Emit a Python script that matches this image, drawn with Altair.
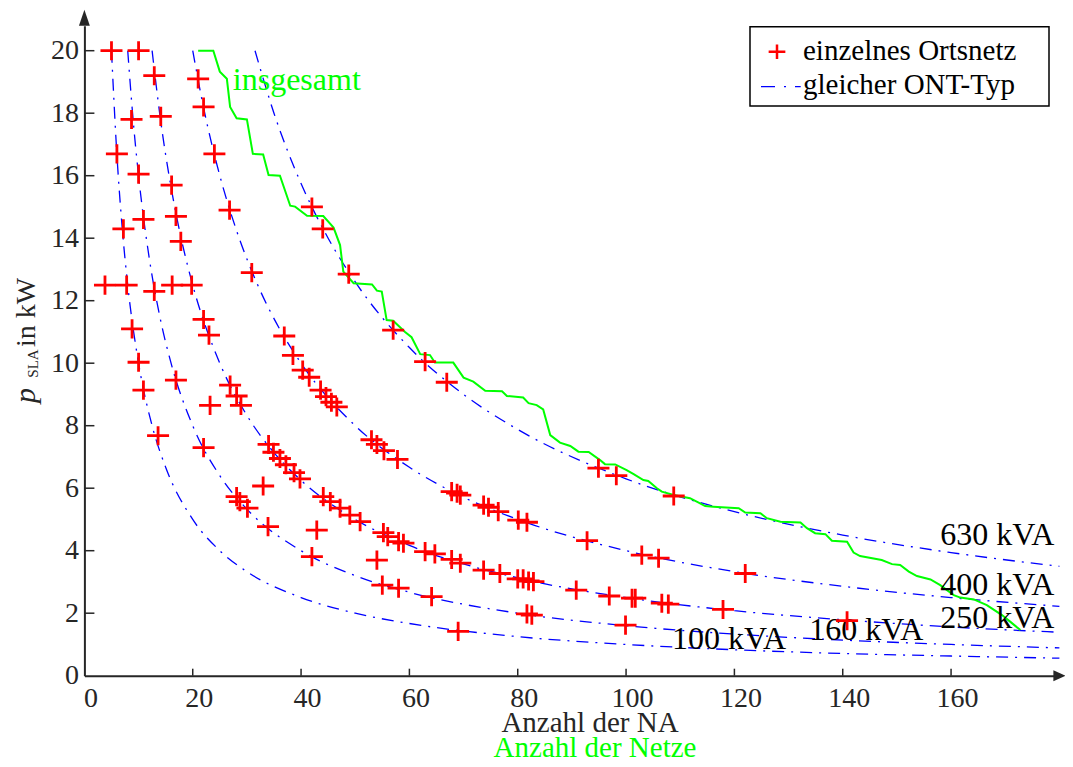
import altair as alt
import pandas as pd

FONT = "Liberation Serif"
DARK = "#262626"

# ---- red markers: einzelnes Ortsnetz (x = Anzahl der NA, y = p_SLA in kW)
pts_x = [5.0, 10.0, 12.9, 8.7, 14.1, 21.0, 22.0, 6.0, 10.0, 24.0, 16.1, 16.9, 26.8, 7.2, 10.9, 17.8, 42.0, 44.0,
         3.8, 7.8, 12.9, 16.2, 19.8, 30.9, 48.8, 8.8, 22.0, 23.0, 10.0, 10.9, 13.6, 16.9,
         26.9, 28.1, 28.9, 23.2, 22.0,
         36.9, 38.5, 40.3, 41.5, 43.6, 44.6, 45.6, 46.6,
         34.0, 34.9, 36.1, 37.2, 38.7, 39.8,
         33.0, 28.1, 28.7, 30.1, 33.9, 42.9, 42.0,
         44.1, 45.4, 47.2, 49.0, 50.9, 55.2, 56.0, 58.0, 58.9, 62.9, 64.7, 54.0,
         53.0, 54.0, 55.3, 57.8,
         57.0, 62.9, 66.9, 94.9, 98.2, 108.8,
         67.8, 68.8, 69.4, 73.7, 74.6, 76.4, 80.1, 81.7, 92.8, 102.9, 106.0, 122.0,
         67.8, 69.4, 73.7, 76.7, 80.0, 81.0, 82.0, 82.9, 90.8, 96.9, 101.1, 101.7, 106.6, 107.8, 117.9, 140.8,
         55.0, 58.0, 64.1, 81.7, 82.6, 99.9,
         69.0]
pts_y = [20.0, 20.0, 19.2, 17.8, 17.9, 19.1, 18.2, 16.7, 16.05, 16.7, 15.7, 14.7, 14.9, 14.3, 14.6, 13.9, 15.0, 14.3,
         12.5, 12.5, 12.3, 12.5, 12.5, 12.9, 12.85, 11.1, 11.4, 10.9, 10.03, 9.14, 7.68, 9.46,
         9.3, 8.95, 8.65, 8.65, 7.3,
         10.87, 10.25, 9.78, 9.55, 9.14, 8.93, 8.75, 8.6,
         7.4, 7.15, 6.95, 6.75, 6.5, 6.3,
         6.07, 5.73, 5.57, 5.36, 4.77, 4.66, 3.81,
         5.73, 5.57, 5.36, 5.14, 4.93, 4.58, 4.45, 4.29, 4.24, 3.97, 3.9, 3.70,
         7.55, 7.4, 7.2, 6.92,
         11.06, 10.05, 9.39, 6.64, 6.40, 5.75,
         5.89, 5.84, 5.78, 5.46, 5.39, 5.25, 4.98, 4.91, 4.32, 3.86, 3.76, 3.27,
         3.72, 3.6, 3.38, 3.27, 3.1, 3.1, 3.03, 3.01, 2.74, 2.55, 2.48, 2.48, 2.32, 2.29, 2.12, 1.76,
         2.90, 2.80, 2.53, 1.98, 1.94, 1.62,
         1.42]

# ---- green line: insgesamt
tot_x = [21.0, 23.8, 25.0, 26.3, 26.9, 28.1, 30.0, 31.1, 33.0, 34.0, 36.1, 38.0, 38.9, 41.1, 44.1, 46.0, 47.2, 47.8,
         49.7, 53.1, 54.0, 54.9, 55.8, 57.0, 59.2, 60.4, 62.0, 63.8, 64.7, 68.1, 70.0, 71.8, 74.0, 77.1, 78.0, 81.0,
         82.0, 83.5, 84.7, 86.0, 87.8, 89.7, 91.2, 93.1, 95.2, 96.1, 98.0, 100.1, 101.4, 103.2, 104.1, 105.7, 106.6,
         108.8, 111.8, 113.4, 114.6, 116.1, 120.8, 122.0, 124.8, 126.0, 128.5, 132.2, 133.4, 134.9, 136.8, 138.0,
         140.8, 142.0, 143.2, 147.2, 149.1, 150.6, 152.2, 153.7, 156.2, 158.0, 160.5, 161.7, 164.2, 166.6, 169.4,
         170.9, 172.8]
tot_y = [20.0, 20.0, 19.33, 19.1, 18.2, 17.84, 17.8, 16.7, 16.68, 16.02, 16.0, 15.04, 15.01, 14.72, 14.71, 14.34,
         13.78, 12.93, 12.56, 12.52, 12.32, 12.29, 11.38, 11.36, 11.0, 10.83, 10.29, 10.26, 10.02, 10.02, 9.54, 9.41,
         9.12, 9.10, 8.95, 8.90, 8.72, 8.66, 8.52, 7.70, 7.46, 7.35, 7.17, 7.16, 6.90, 6.77, 6.76, 6.58, 6.45, 6.26,
         6.23, 6.0, 5.89, 5.78, 5.68, 5.54, 5.43, 5.41, 5.36, 5.22, 5.20, 5.04, 4.93, 4.90, 4.72, 4.56, 4.53, 4.32,
         4.29, 3.94, 3.83, 3.70, 3.57, 3.54, 3.33, 3.19, 3.08, 2.90, 2.58, 2.50, 2.44, 2.26, 1.94, 1.73, 1.46]

# ---- blue dash-dot curves: gleicher ONT-Typ
c100_x = [5, 6, 7, 8, 10, 12.5, 15, 20, 25, 30, 40, 50, 60, 80, 100, 120, 140, 160, 180]
c100_y = [20, 16.67, 14.29, 12.5, 10, 8, 6.67, 5, 4, 3.33, 2.5, 2, 1.67, 1.25, 1, 0.83, 0.71, 0.63, 0.56]
c160_x = [8, 9, 10, 12, 14, 16, 20, 25, 30, 40, 50, 60, 80, 100, 120, 140, 160, 180]
c160_y = [20, 17.78, 16, 13.33, 11.43, 10, 8, 6.4, 5.33, 4, 3.2, 2.67, 2, 1.6, 1.33, 1.14, 1, 0.89]
c250_x = [12.5, 14, 16, 18, 20, 25, 30, 35, 40, 50, 60, 80, 100, 120, 140, 160, 180]
c250_y = [20, 17.86, 15.63, 13.89, 12.5, 10, 8.33, 7.14, 6.25, 5, 4.17, 3.13, 2.5, 2.08, 1.79, 1.56, 1.39]
c400_x = [20, 22, 25, 28, 32, 36, 40, 50, 60, 70, 80, 100, 120, 140, 160, 180]
c400_y = [20, 18.18, 16, 14.29, 12.5, 11.11, 10, 8, 6.67, 5.71, 5, 4, 3.33, 2.86, 2.5, 2.22]
c630_x = [31.5, 35, 40, 45, 50, 60, 70, 80, 100, 120, 140, 160, 180]
c630_y = [20, 18, 15.75, 14, 12.6, 10.5, 9, 7.88, 6.3, 5.25, 4.5, 3.94, 3.5]

# ---- curve labels
lab_text = ["630 kVA", "400 kVA", "250 kVA", "160 kVA", "100 kVA"]
lab_x = [158.0, 158.0, 158.0, 133.8, 108.5]
lab_y = [4.18, 2.58, 1.54, 1.14, 0.85]

x_ticks = [0, 20, 40, 60, 80, 100, 120, 140, 160]
y_ticks = [0, 2, 4, 6, 8, 10, 12, 14, 16, 18, 20]

W, H = 975, 650
XMAX, YMAX = 180, 20.8

xs = alt.Scale(domain=[0, XMAX], nice=False, zero=False)
ys = alt.Scale(domain=[0, YMAX], nice=False, zero=False)
ax_x = alt.Axis(values=x_ticks, title=None, ticks=False, grid=False, domainColor=DARK, domainWidth=2,
                labelFont=FONT, labelFontSize=28, labelColor=DARK, labelPadding=9, labelOffset=6,
                labelFlush=False, labelOverlap=False, labelBaseline="top")
ax_y = alt.Axis(values=y_ticks, title=None, ticks=False, grid=False, domainColor=DARK, domainWidth=2,
                labelFont=FONT, labelFontSize=28, labelColor=DARK, labelPadding=6,
                labelFlush=False, labelOverlap=False)
X = alt.X("x:Q", scale=xs, axis=ax_x)
Y = alt.Y("y:Q", scale=ys, axis=ax_y)

rows = []
for name, cx, cy in [("100", c100_x, c100_y), ("160", c160_x, c160_y), ("250", c250_x, c250_y),
                     ("400", c400_x, c400_y), ("630", c630_x, c630_y)]:
    rows += [{"s": name, "x": a, "y": b} for a, b in zip(cx, cy)]
df_curves = pd.DataFrame(rows)
df_tot = pd.DataFrame({"x": tot_x, "y": tot_y, "i": list(range(len(tot_x)))})
df_pts = pd.DataFrame({"x": pts_x, "y": pts_y})
df_lab = pd.DataFrame({"x": lab_x, "y": lab_y, "t": lab_text})
dummy = alt.Data(values=[{"d": 0}])

DASH = [12, 7, 2, 7]
PLUS = "M-1,0H1M0,-0.87V0.87"

curves = alt.Chart(df_curves).mark_line(color="#0000ff", strokeWidth=1.3, strokeDash=DASH,
                                        interpolate="monotone").encode(X, Y, detail="s:N")
green = alt.Chart(df_tot).mark_line(color="#00ff00", strokeWidth=2).encode(X, Y, order="i:Q")
pts = alt.Chart(df_pts).mark_point(shape=PLUS, size=484, color="#ff0000", strokeWidth=2.8,
                                   filled=False, opacity=1).encode(X, Y)

tx = alt.Chart(pd.DataFrame({"x": x_ticks[1:]})).mark_rule(color=DARK, strokeWidth=1.5).encode(
    x=X, y=alt.value(H), y2=alt.value(H - 7))
ty = alt.Chart(pd.DataFrame({"y": y_ticks[1:]})).mark_rule(color=DARK, strokeWidth=1.5).encode(
    y=Y, x=alt.value(0), x2=alt.value(10))

arrow_y = alt.Chart(pd.DataFrame({"x": [0], "y": [YMAX]})).mark_point(
    shape="M0,-1L0.34,0L-0.34,0Z", size=1024, filled=True, color=DARK, opacity=1).encode(X, Y)
arrow_x = alt.Chart(pd.DataFrame({"x": [XMAX], "y": [0]})).mark_point(
    shape="M0.5,0L-0.5,-0.46L-0.5,0.46Z", size=576, filled=True, color=DARK, opacity=1).encode(X, Y)

labels = alt.Chart(df_lab).mark_text(align="left", baseline="alphabetic", font=FONT, fontSize=32,
                                     color="black").encode(X, Y, text="t:N")
insg = alt.Chart(pd.DataFrame({"x": [27.4], "y": [18.74], "t": ["insgesamt"]})).mark_text(
    align="left", baseline="alphabetic", font=FONT, fontSize=32, color="#00ff00").encode(X, Y, text="t:N")

# legend
leg_box = alt.Chart(dummy).mark_rect(fill="white", stroke="black", strokeWidth=1.5).encode(
    x=alt.value(665.6), x2=alt.value(964.6), y=alt.value(1.0), y2=alt.value(80.3))
leg_plus = alt.Chart(dummy).mark_point(shape=PLUS, size=279, color="#ff0000", strokeWidth=2.5,
                                       filled=False, opacity=1).encode(x=alt.value(692.6), y=alt.value(26.0))
leg_line = alt.Chart(dummy).mark_rule(color="#0000ff", strokeWidth=1.3, strokeDash=[14, 9, 2, 9]).encode(
    x=alt.value(676.6), x2=alt.value(716.3), y=alt.value(61.0))
leg_t1 = alt.Chart(dummy).mark_text(align="left", baseline="alphabetic", font=FONT, fontSize=29,
                                    color="black", text="einzelnes Ortsnetz").encode(
    x=alt.value(718.6), y=alt.value(34.3))
leg_t2 = alt.Chart(dummy).mark_text(align="left", baseline="alphabetic", font=FONT, fontSize=29,
                                    color="black", text="gleicher ONT-Typ").encode(
    x=alt.value(718.6), y=alt.value(68.3))

# axis titles
xt1 = alt.Chart(dummy).mark_text(align="center", baseline="alphabetic", font=FONT, fontSize=29,
                                 color=DARK, text="Anzahl der NA").encode(x=alt.value(505.6), y=alt.value(706.0))
xt2 = alt.Chart(dummy).mark_text(align="center", baseline="alphabetic", font=FONT, fontSize=29,
                                 color="#00ff00", text="Anzahl der Netze").encode(x=alt.value(510.6), y=alt.value(731.5))
yt_p = alt.Chart(dummy).mark_text(align="left", baseline="alphabetic", font=FONT, fontSize=30,
                                  fontStyle="italic", angle=270, color=DARK, text="p").encode(
    x=alt.value(-49.4), y=alt.value(377.3))
yt_s = alt.Chart(dummy).mark_text(align="left", baseline="alphabetic", font=FONT, fontSize=15,
                                  angle=270, color=DARK, text="SLA").encode(
    x=alt.value(-46.5), y=alt.value(352.0))
yt_u = alt.Chart(dummy).mark_text(align="left", baseline="alphabetic", font=FONT, fontSize=28,
                                  angle=270, color=DARK, text="in kW").encode(
    x=alt.value(-49.4), y=alt.value(321.3))

chart = alt.layer(
    curves, green, tx, ty, arrow_y, arrow_x, labels, pts, insg,
    leg_box, leg_plus, leg_line, leg_t1, leg_t2, xt1, xt2, yt_p, yt_s, yt_u
).properties(
    width=W, height=H,
    padding={"left": 76.4, "top": 17.7, "right": 5.6, "bottom": 83.3},
    autosize=alt.AutoSizeParams(type="none"),
    background="white",
).configure_view(strokeWidth=0)

chart.save("out.html", embed_options={"renderer": "svg", "actions": False})
